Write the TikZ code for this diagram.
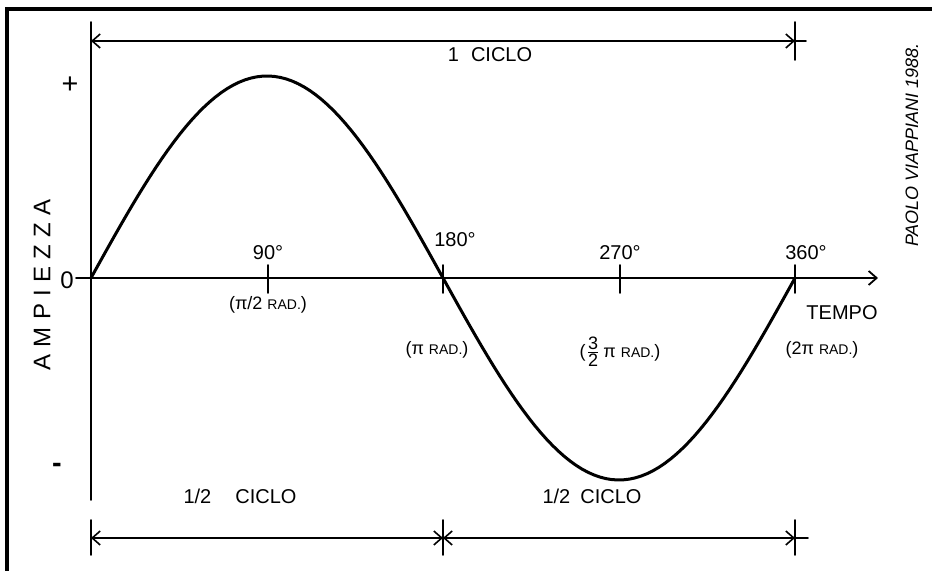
\documentclass[tikz,border=0pt]{standalone}
\usepackage{fontspec}
\setmainfont{Liberation Sans}
\usetikzlibrary{arrows.meta, calc}

\begin{document}
\begin{tikzpicture}[x=0.5pt, y=0.5pt, line cap=round,
  axis/.style={line width=0.9pt},
  dim/.style={line width=0.8pt,
    {Straight Barb[length=4pt,width=7pt]}-{Straight Barb[length=4pt,width=7pt]}},
  lbl/.style={font=\normalsize, inner sep=1pt},
  rad/.style={font=\small, inner sep=1pt}]
  % foglio 932 x 571 px, 1 px = 0.5pt; y verso l'alto
  \useasboundingbox (0,0) rectangle (932,571);
  % cornice
  \draw[line width=1.6pt] (7,0) -- (7,562) -- (932,562);
  % asse zero a y=293, un ciclo da x=91 a x=795 (704/360 = 1.9556), ampiezza 202
  \coordinate (O) at (91,293);
  \coordinate (Q1) at (268,293);
  \coordinate (Q2) at (443,293);
  \coordinate (Q3) at (620,293);
  \coordinate (Q4) at (795,293);
  \coordinate (Xend) at (878,293);
  \coordinate (Ytop) at (91,549);
  \coordinate (Ybot) at (91,71);
  % assi
  \draw[axis] (Ytop) -- (Ybot);
  \draw[axis, -{Straight Barb[length=4pt,width=7pt]}] (76,293) -- (Xend);
  \foreach \p in {Q1,Q2,Q3,Q4}
    \draw[axis] ($(\p)+(0,13)$) -- ($(\p)+(0,-15)$);
  % sinusoide
  \draw[line width=1.5pt] plot[domain=0:360, samples=120]
    ({91+1.9556*\x}, {293+202*sin(\x)});
  % quote: 1 ciclo
  \coordinate (T0) at (91,530);
  \coordinate (T1) at (795,530);
  \draw[axis] (795,549) -- (795,511);
  \draw[dim] (T0) -- (T1);
  \draw[axis] (T1) -- (806,530);
  % quote: 1/2 ciclo + 1/2 ciclo
  \coordinate (B0) at (91,33);
  \coordinate (B1) at (443,33);
  \coordinate (B2) at (795,33);
  \foreach \x in {91,443,795}
    \draw[axis] (\x,51) -- (\x,16);
  \draw[dim] (B0) -- (B1);
  \draw[dim] (B1) -- (B2);
  \draw[axis] (B2) -- (808,33);
  % testi
  \node[lbl] (plus) at (70,486) {\Large +};
  \node[lbl] (zero) at (67,291) {\large 0};
  \node[lbl] (minus) at (57,103) {\Large\bfseries -};
  \node[lbl, rotate=90] (ampiezza) at (42,286)
    {\large\addfontfeatures{LetterSpace=30}AMPIEZZA};
  \node[lbl] (ciclo) at (490,516) {1\hspace{0.6em}CICLO};
  \node[lbl] (g90) at (268,318) {90°};
  \node[lbl] (g180) at (455,331) {180°};
  \node[lbl] (g270) at (620,318) {270°};
  \node[lbl] (g360) at (806,318) {360°};
  \node[lbl] (tempo) at (842,258) {TEMPO};
  \node[rad] (r90) at (268,266) {(π/2 {\scriptsize RAD.})};
  \node[rad] (r180) at (437,221) {(π {\scriptsize RAD.})};
  \node[rad] (r270) at (620,219)
    {($\frac{\mbox{3}}{\mbox{2}}$\,π {\scriptsize RAD.})};
  \node[rad] (r360) at (822,221) {(2π {\scriptsize RAD.})};
  \node[lbl] (meta1) at (240,75) {1/2\hspace{1.2em}CICLO};
  \node[lbl] (meta2) at (592,75) {1/2\hspace{0.5em}CICLO};
  \node[rotate=90, font=\small\itshape] (firma) at (912,426)
    {PAOLO VIAPPIANI 1988.};
\end{tikzpicture}
\end{document}
